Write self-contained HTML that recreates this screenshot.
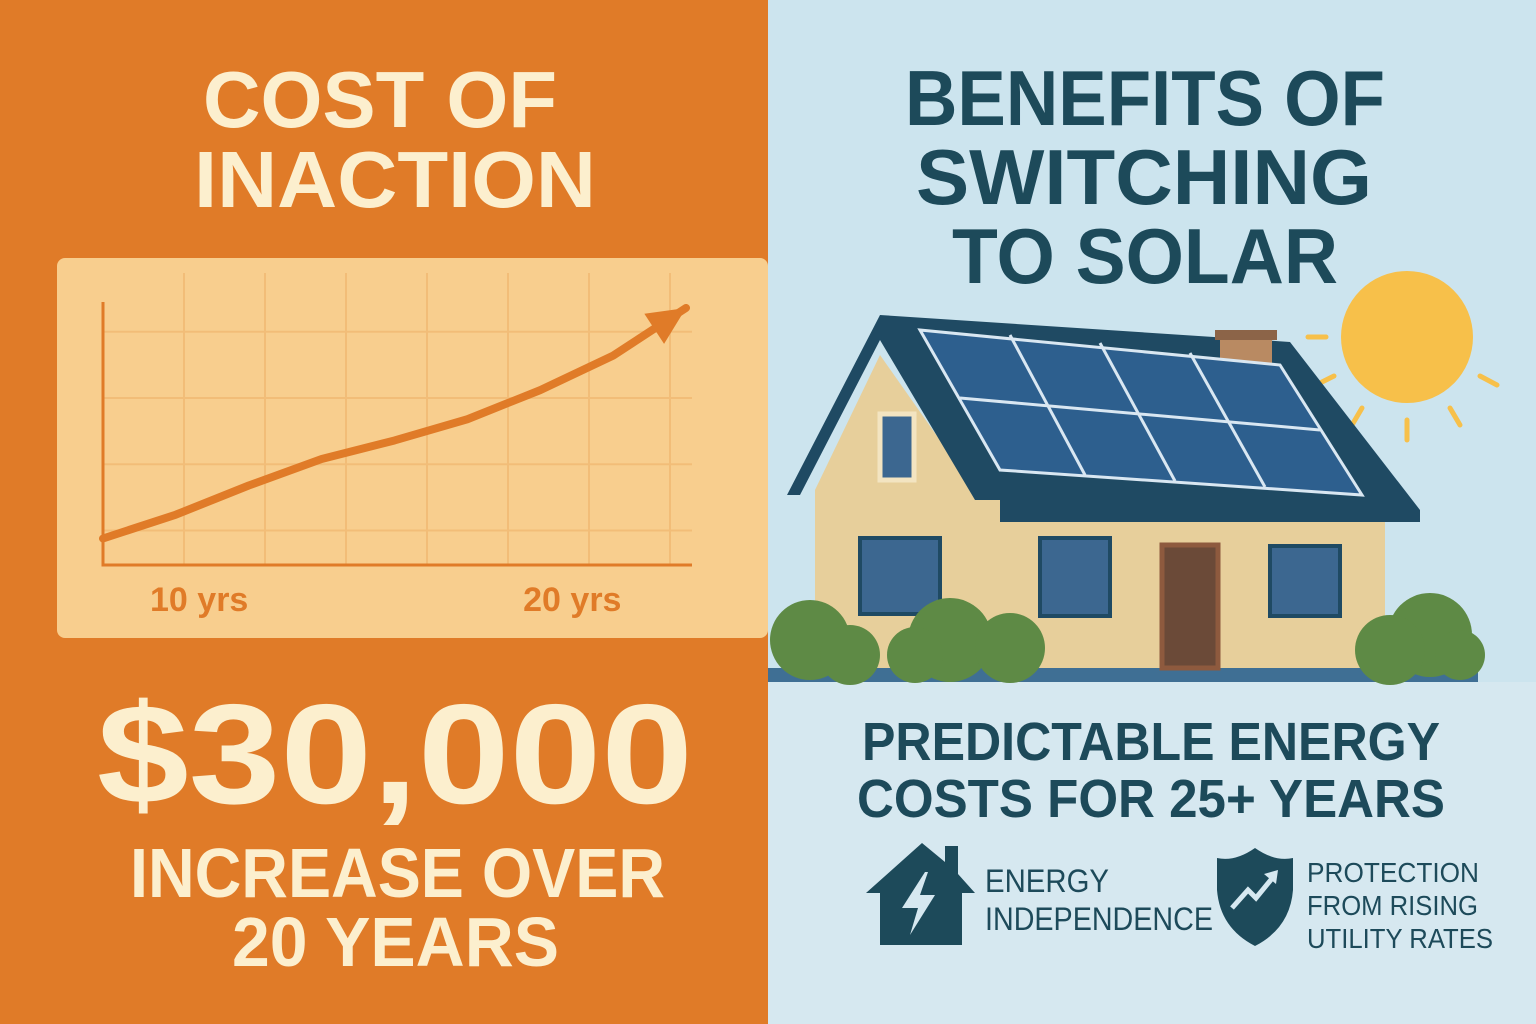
<!DOCTYPE html>
<html><head><meta charset="utf-8"><style>
html,body{margin:0;padding:0;width:1536px;height:1024px;overflow:hidden}
body{position:relative;font-family:"Liberation Sans",sans-serif}
svg{position:absolute;left:0;top:0}
</style></head><body>
<svg width="1536" height="1024" viewBox="0 0 1536 1024">
<rect x="0" y="0" width="768" height="1024" fill="#E07B28"/>
<rect x="768" y="0" width="768" height="682" fill="#CCE4EE"/>
<rect x="768" y="682" width="768" height="342" fill="#D6E8F0"/>

<g font-weight="bold" fill="#FCEFCE">
<text x="203" y="127" font-size="80" textLength="354" lengthAdjust="spacingAndGlyphs">COST OF</text>
<text x="194" y="207" font-size="80" textLength="402" lengthAdjust="spacingAndGlyphs">INACTION</text>
</g>

<rect x="57" y="258" width="711" height="380" rx="8" fill="#F8CE8E"/>
<g id="chart"></g>

<g font-weight="bold" fill="#FCEFCE">
<text x="97" y="803" font-size="142" textLength="596" lengthAdjust="spacingAndGlyphs">$30,000</text>
<text x="130" y="897" font-size="70" textLength="535" lengthAdjust="spacingAndGlyphs">INCREASE OVER</text>
<text x="232" y="966" font-size="70" textLength="327" lengthAdjust="spacingAndGlyphs">20 YEARS</text>
</g>

<g font-weight="bold" fill="#1D4A5A">
<text x="905" y="125" font-size="78" textLength="480" lengthAdjust="spacingAndGlyphs">BENEFITS OF</text>
<text x="916" y="204" font-size="78" textLength="456" lengthAdjust="spacingAndGlyphs">SWITCHING</text>
<text x="952" y="283" font-size="78" textLength="386" lengthAdjust="spacingAndGlyphs">TO SOLAR</text>
</g>

<g stroke="#F7C04A" stroke-width="5" stroke-linecap="round">
<circle cx="1407" cy="337" r="66" fill="#F7C04A" stroke="none"/>
<line x1="1308" y1="337" x2="1326" y2="337"/>
<line x1="1316" y1="385" x2="1334" y2="376"/>
<line x1="1352" y1="425" x2="1362" y2="408"/>
<line x1="1407" y1="440" x2="1407" y2="420"/>
<line x1="1460" y1="425" x2="1450" y2="408"/>
<line x1="1497" y1="385" x2="1480" y2="376"/>
</g>

<g>
<rect x="768" y="668" width="710" height="14" fill="#3F6F94"/>
<polygon points="815,490 880,355 975,490 1000,490 1000,520 1385,520 1385,668 815,668" fill="#E7CF9B"/>
<polygon points="787,495 880,315 1290,342 1420,510 1420,522 1000,522 1000,500 975,500 880,340 800,495" fill="#1F4A63"/>
<rect x="1220" y="333" width="52" height="45" fill="#B98A62"/>
<rect x="1215" y="330" width="62" height="10" fill="#8C6448"/>
<polygon points="920,330 1280,365 1362,495 1000,470" fill="#2D5F8E" stroke="#D9E7F2" stroke-width="3"/>
<g stroke="#D9E7F2" stroke-width="3">
<line x1="960" y1="398" x2="1320" y2="430"/>
<line x1="1010" y1="335" x2="1085" y2="475"/>
<line x1="1100" y1="343" x2="1175" y2="481"/>
<line x1="1190" y1="353" x2="1265" y2="487"/>
</g>
<rect x="880" y="414" width="34" height="66" fill="#3C6790" stroke="#F3E4C1" stroke-width="5"/>
<rect x="860" y="538" width="80" height="76" fill="#3C6790" stroke="#1F4A63" stroke-width="4"/>
<rect x="1040" y="538" width="70" height="78" fill="#3C6790" stroke="#1F4A63" stroke-width="4"/>
<rect x="1270" y="546" width="70" height="70" fill="#3C6790" stroke="#1F4A63" stroke-width="4"/>
<rect x="1162" y="545" width="56" height="123" fill="#6B4A38" stroke="#8E5A3E" stroke-width="5"/>
<g fill="#5E8A45">
<circle cx="810" cy="640" r="40"/><circle cx="850" cy="655" r="30"/>
<circle cx="950" cy="640" r="42"/><circle cx="1010" cy="648" r="35"/><circle cx="915" cy="655" r="28"/>
<circle cx="1430" cy="635" r="42"/><circle cx="1390" cy="650" r="35"/><circle cx="1460" cy="655" r="25"/>
</g>
</g>

<g font-weight="bold" fill="#1D4A5A">
<text x="862" y="760" font-size="54" textLength="578" lengthAdjust="spacingAndGlyphs">PREDICTABLE ENERGY</text>
<text x="857" y="817" font-size="54" textLength="588" lengthAdjust="spacingAndGlyphs">COSTS FOR 25+ YEARS</text>
</g>

<g fill="#1D4A5A">
<polygon points="866,893 922,843 945,862 945,846 958,846 958,874 975,893 962,893 962,945 880,945 880,893"/>
<polygon points="925,872 902,908 918,908 910,935 935,895 920,895 928,872" fill="#D6E8F0"/>
</g>
<g font-size="32" fill="#1D4A5A">
<text x="985" y="892" textLength="124" lengthAdjust="spacingAndGlyphs">ENERGY</text>
<text x="985" y="930" textLength="228" lengthAdjust="spacingAndGlyphs">INDEPENDENCE</text>
</g>
<g>
<path d="M1255,848 Q1235,862 1217,858 L1217,890 Q1220,928 1255,946 Q1290,928 1293,890 L1293,858 Q1275,862 1255,848 Z" fill="#1D4A5A"/>
<polyline points="1232,908 1248,890 1256,898 1274,876" fill="none" stroke="#D6E8F0" stroke-width="5"/>
<polygon points="1264,874 1278,870 1276,884" fill="#D6E8F0"/>
</g>
<g font-size="28" fill="#1D4A5A">
<text x="1307" y="882" textLength="172" lengthAdjust="spacingAndGlyphs">PROTECTION</text>
<text x="1307" y="915" textLength="171" lengthAdjust="spacingAndGlyphs">FROM RISING</text>
<text x="1307" y="948" textLength="186" lengthAdjust="spacingAndGlyphs">UTILITY RATES</text>
</g>
</svg>
<script>
const years=[0,2.5,5,7.5,10,12.5,15,17.5,20];
const costIndex=[10,19,30,40,47,55,66,79,97];
const xTickLabels=["10 yrs","20 yrs"];
const xTickYears=[3.3,16.1];
const gridValues=[13,38,63,88];
(function(){
const NS="http://www.w3.org/2000/svg";
const g=document.getElementById('chart');
const x0=103,x1=686,y0=565,y1=300;
const xs=v=>x0+(v-years[0])/(years[years.length-1]-years[0])*(x1-x0);
const ys=v=>y0-v/100*(y0-y1);
function mk(t,a){const e=document.createElementNS(NS,t);for(const k in a)e.setAttribute(k,a[k]);g.appendChild(e);return e;}
const gridX=[1,2,3,4,5,6,7].map(i=>x0+i*81);
gridX.forEach(x=>{const l=mk('line',{x1:x,y1:273,x2:x,y2:y0,stroke:'#F2BD78','stroke-width':2});

});
gridValues.forEach(v=>{const l=mk('line',{x1:x0,y1:ys(v),x2:692,y2:ys(v),stroke:'#F2BD78','stroke-width':2});

});
const ax=mk('polyline',{points:`${x0},302 ${x0},${y0} 692,${y0}`,fill:'none',stroke:'#E07B28','stroke-width':3});


let d='';
years.forEach((yr,i)=>{d+=(i?' L':'M')+xs(yr)+','+ys(costIndex[i]);});
const p=mk('path',{d:d,fill:'none',stroke:'#E07B28','stroke-width':8,'stroke-linejoin':'round','stroke-linecap':'round'});


const n=years.length,ex=xs(years[n-1]),ey=ys(costIndex[n-1]);
const px=xs(years[n-2]),py=ys(costIndex[n-2]);
const ang=Math.atan2(ey-py,ex-px);
const L=38,W=18;
const bx=ex-L*Math.cos(ang),by=ey-L*Math.sin(ang);
const a=mk('polygon',{points:`${ex},${ey} ${bx+W*Math.sin(ang)},${by-W*Math.cos(ang)} ${bx-W*Math.sin(ang)},${by+W*Math.cos(ang)}`,fill:'#E07B28'});


xTickLabels.forEach((t,i)=>{const tx=mk('text',{x:xs(xTickYears[i]),y:611,'font-size':34,'font-weight':'bold',fill:'#E07B28','text-anchor':'middle'});
tx.textContent=t;

});
})();
</script>
</body></html>
